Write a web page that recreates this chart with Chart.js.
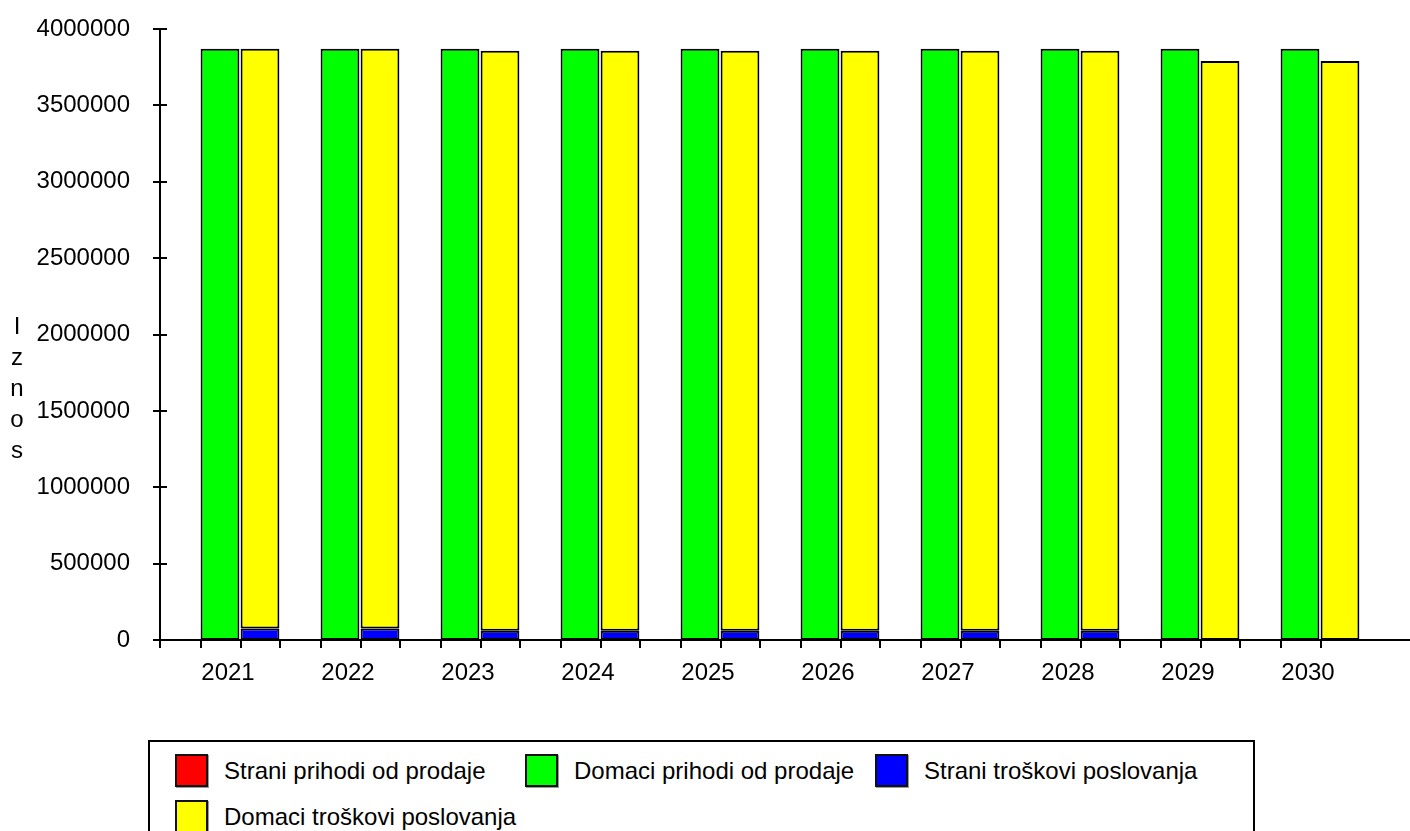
<!DOCTYPE html>
<html>
<head>
<meta charset="utf-8">
<script src="https://cdn.jsdelivr.net/npm/chart.js@4.4.1/dist/chart.umd.min.js"></script>
<style>
  html, body { margin: 0; padding: 0; background: #fff; overflow: hidden; }
  #wrap { position: relative; width: 1410px; height: 831px; }
  canvas { position: absolute; left: 0; top: 0; }
  #legend { position: absolute; left: 148px; top: 740px; width: 1107px; height: 120px;
            border: 2px solid #000; box-sizing: border-box; background: #fff;
            font-family: "Liberation Sans", Arial, sans-serif; font-size: 24px; color: #000; }
  .item { position: absolute; height: 33px; display: flex; align-items: center; white-space: nowrap; }
  .sw { width: 33px; height: 33px; box-sizing: border-box; border: 2px solid #111;
        box-shadow: 1px 1px 0 #999; margin-right: 16px; }
</style>
</head>
<body>
<div id="wrap">
  <canvas id="c" width="1410" height="831"></canvas>
  <div id="legend"></div>
</div>
<script>
const years = ['2021','2022','2023','2024','2025','2026','2027','2028','2029','2030'];
const straniPrihodi  = [0, 0, 0, 0, 0, 0, 0, 0, 0, 0];
const domaciPrihodi  = [3870000, 3870000, 3870000, 3870000, 3870000, 3870000, 3870000, 3870000, 3870000, 3870000];
const straniTroskovi = [75000, 75000, 60000, 60000, 60000, 60000, 60000, 60000, 0, 0];
const domaciTroskovi = [3795000, 3795000, 3797000, 3797000, 3797000, 3797000, 3797000, 3797000, 3790000, 3790000];
const yTicks = [0, 500000, 1000000, 1500000, 2000000, 2500000, 3000000, 3500000, 4000000];
const seriesNames = ['Strani prihodi od prodaje', 'Domaci prihodi od prodaje', 'Strani troškovi poslovanja', 'Domaci troškovi poslovanja'];
const seriesColors = ['#ff0000', '#00ff00', '#0000ff', '#ffff00'];
const axisTitle = 'Iznos';

const FONT = '"Liberation Sans", Arial, sans-serif';

const barStyle = {
  borderColor: '#000',
  borderWidth: (c) => (c.raw ? 2 : 0),
  borderSkipped: false,
  barPercentage: 0.97,
  categoryPercentage: 1.0
};

const datasets = [
  // empty slot (the first third of each category is left blank in the original)
  { label: '', data: years.map(() => null), stack: 's0', backgroundColor: 'rgba(0,0,0,0)', borderWidth: 0, legend: false, barPercentage: 0.97, categoryPercentage: 1.0 },
  Object.assign({ label: seriesNames[0], data: straniPrihodi,  stack: 'prihodi', backgroundColor: seriesColors[0] }, barStyle),
  Object.assign({ label: seriesNames[1], data: domaciPrihodi,  stack: 'prihodi', backgroundColor: seriesColors[1] }, barStyle),
  Object.assign({ label: seriesNames[2], data: straniTroskovi, stack: 'troskovi', backgroundColor: seriesColors[2] }, barStyle),
  Object.assign({ label: seriesNames[3], data: domaciTroskovi, stack: 'troskovi', backgroundColor: seriesColors[3] }, barStyle),
];

const axesPlugin = {
  id: 'axesPlugin',
  afterDatasetsDraw(chart) {
    const ctx = chart.ctx;
    const xs = chart.scales.x, ys = chart.scales.y;
    const ca = chart.chartArea;
    const y0 = ys.getPixelForValue(0);
    ctx.save();
    ctx.strokeStyle = '#000';
    ctx.lineWidth = 2;
    ctx.beginPath();
    ctx.moveTo(ca.left, ys.getPixelForValue(yTicks[yTicks.length - 1]));
    ctx.lineTo(ca.left, y0 + 8);
    yTicks.forEach(v => {
      const py = Math.round(ys.getPixelForValue(v));
      ctx.moveTo(ca.left - 7, py);
      ctx.lineTo(ca.left + 7, py);
    });
    ctx.moveTo(ca.left, y0);
    ctx.lineTo(chart.width, y0);
    const catW = (ca.right - ca.left) / years.length;
    const green = chart.getDatasetMeta(2).data;
    const yellow = chart.getDatasetMeta(4).data;
    years.forEach((_, i) => {
      const cl = xs.getPixelForValue(i) - catW / 2;
      const edges = [cl, green[i].x - green[i].width / 2, yellow[i].x - yellow[i].width / 2];
      edges.forEach(ex => { const px = Math.round(ex); ctx.moveTo(px, y0); ctx.lineTo(px, y0 + 8); });
    });
    ctx.stroke();
    ctx.fillStyle = '#000';
    ctx.font = '24px ' + FONT;
    ctx.textAlign = 'center';
    ctx.textBaseline = 'middle';
    axisTitle.split('').forEach((ch, k) => ctx.fillText(ch, 17, 327 + k * 31));
    ctx.restore();
  }
};

const chart = new Chart(document.getElementById('c'), {
  type: 'bar',
  data: { labels: years, datasets },
  options: {
    responsive: false,
    animation: false,
    layout: { padding: { left: 0, right: 50, top: 29, bottom: 0 } },
    plugins: { legend: { display: false }, tooltip: { enabled: false } },
    scales: {
      x: {
        type: 'category',
        stacked: true,
        offset: true,
        grid: { display: false, drawTicks: false },
        border: { display: false },
        ticks: { color: '#000', font: { family: FONT, size: 24 }, padding: 19, labelOffset: 8, maxRotation: 0, autoSkip: false },
        afterFit(s) { s.height = 191; }
      },
      y: {
        stacked: true,
        min: 0, max: 4000000,
        afterBuildTicks(s) { s.ticks = yTicks.map(v => ({ value: v })); },
        grid: { display: false, drawTicks: true, tickLength: 30 },
        border: { display: false },
        ticks: { color: '#000', font: { family: FONT, size: 24 }, padding: 0, callback: v => String(v) },
        afterFit(s) { s.width = 160; }
      }
    }
  },
  plugins: [axesPlugin]
});

const legendEl = document.getElementById('legend');
chart.data.datasets.filter(d => d.legend !== false).forEach((d, i) => {
  const col = i % 3, row = Math.floor(i / 3);
  const it = document.createElement('div');
  it.className = 'item';
  it.style.left = (25 + col * 350) + 'px';
  it.style.top = (12 + row * 46) + 'px';
  const sw = document.createElement('div');
  sw.className = 'sw';
  sw.style.background = d.backgroundColor;
  const tx = document.createElement('span');
  tx.textContent = d.label;
  it.appendChild(sw); it.appendChild(tx);
  legendEl.appendChild(it);
});
</script>
</body>
</html>
